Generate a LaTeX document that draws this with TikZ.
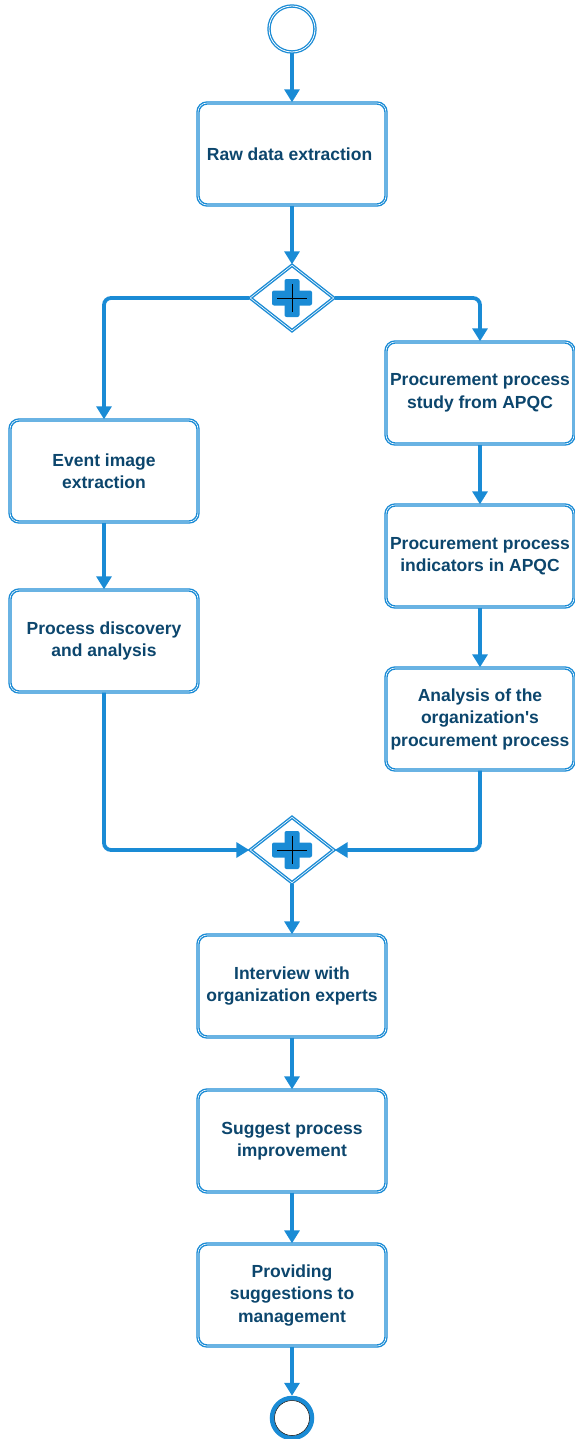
\documentclass[tikz,border=0pt]{standalone}
\usepackage{fontspec}
\setmainfont{Liberation Sans}
\usetikzlibrary{arrows.meta,shapes.geometric}
\usepackage{xcolor}
\definecolor{flowblue}{HTML}{1A8BD5}
\definecolor{flowtext}{HTML}{0C466D}

\begin{document}
\begin{tikzpicture}[x=1pt, y=-1pt,
    task/.style={
        rectangle,
        rounded corners=9pt,
        draw=flowblue,
        line width=1.4pt,
        double=white,
        double distance=0.6pt,
        fill=white,
        minimum width=188pt,
        minimum height=102pt,
        inner sep=2pt,
        align=center,
        text=flowtext,
        font=\bfseries\fontsize{17.5}{22.5}\selectfont
    },
    gateway/.style={
        diamond,
        draw=flowblue,
        line width=1.4pt,
        double=white,
        double distance=0.6pt,
        fill=white,
        inner sep=0pt,
        minimum width=84pt,
        minimum height=66pt,
        path picture={
            \fill[flowblue, rounded corners=2pt]
                ([xshift=-20pt, yshift=-7.5pt]path picture bounding box.center) rectangle
                ([xshift=20pt, yshift=7.5pt]path picture bounding box.center);
            \fill[flowblue, rounded corners=2pt]
                ([xshift=-7.5pt, yshift=-19pt]path picture bounding box.center) rectangle
                ([xshift=7.5pt, yshift=19pt]path picture bounding box.center);
            \draw[black, line width=0.3pt]
                ([xshift=-15pt]path picture bounding box.center) --
                ([xshift=15pt]path picture bounding box.center);
            \draw[black, line width=0.3pt]
                ([yshift=-14pt]path picture bounding box.center) --
                ([yshift=14pt]path picture bounding box.center);
        }
    },
    flow/.style={
        draw=flowblue,
        line width=3.8pt,
        rounded corners=7pt,
        -{Triangle[length=13pt, width=15pt]}
    }
]

    \useasboundingbox (0,0) rectangle (574,1439);

    % events
    \node (start) [circle, draw=flowblue, line width=1.3pt, double=white, double distance=0.8pt,
        minimum size=46pt, inner sep=0pt, shift={(292, 29)}] {};

    \node (finish) [circle, draw=flowblue, line width=4.5pt, minimum size=40pt, inner sep=0pt,
        shift={(292, 1418)}] {};
    \draw[black, line width=0.5pt] (finish.center) circle (17.5pt);

    % main column
    \node (raw_data) [task, shift={(292, 154)}]
    {
        Raw data extraction
    };

    \node (split_gw) [gateway, shift={(292, 298)}] {};

    % left branch
    \node (event_image) [task, shift={(104, 471)}]
    {
        Event image\\extraction
    };

    \node (discovery) [task, shift={(104, 641)}]
    {
        Process discovery\\and analysis
    };

    % right branch
    \node (apqc_study) [task, shift={(480, 393)}]
    {
        Procurement process\\study from APQC
    };

    \node (apqc_indicators) [task, shift={(480, 556)}]
    {
        Procurement process\\indicators in APQC
    };

    \node (org_analysis) [task, shift={(480, 719)}]
    {
        Analysis of the\\organization\textquotesingle s\\procurement process
    };

    \node (join_gw) [gateway, shift={(292, 850)}] {};

    \node (interview) [task, shift={(292, 986)}]
    {
        Interview with\\organization experts
    };

    \node (improvement) [task, shift={(292, 1141)}]
    {
        Suggest process\\improvement
    };

    \node (suggestions) [task, shift={(292, 1295)}]
    {
        Providing\\suggestions to\\management
    };


    \draw[flow] (start) to (raw_data);
    \draw[flow] (raw_data) to (split_gw);
    \draw[flow] (split_gw.west) -| (event_image.north);
    \draw[flow] (split_gw.east) -| (apqc_study.north);
    \draw[flow] (event_image) to (discovery);
    \draw[flow] (apqc_study) to (apqc_indicators);
    \draw[flow] (apqc_indicators) to (org_analysis);
    \draw[flow] (discovery.south) |- (join_gw.west);
    \draw[flow] (org_analysis.south) |- (join_gw.east);
    \draw[flow] (join_gw) to (interview);
    \draw[flow] (interview) to (improvement);
    \draw[flow] (improvement) to (suggestions);
    \draw[flow] (suggestions) to (finish);

\end{tikzpicture}
\end{document}
